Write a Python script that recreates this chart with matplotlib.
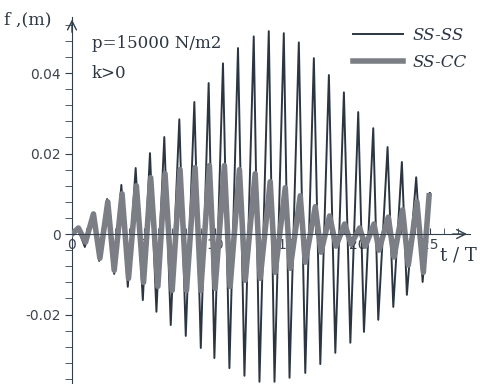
import matplotlib.pyplot as plt
from matplotlib.ticker import MultipleLocator, FixedLocator

# SS-SS : peaks and troughs
ss_peak_t = [0.4, 1.45, 2.45, 3.45, 4.45, 5.45, 6.45, 7.5, 8.55, 9.55, 10.55, 11.6, 12.7,
             13.75, 14.8, 15.85, 16.9, 17.95, 19.0, 20.0, 21.05, 22.05, 23.05, 24.05, 25.0]
ss_peak_f = [0.0015, 0.005, 0.0087, 0.0122, 0.0164, 0.0201, 0.0241, 0.0285, 0.0328, 0.0375,
             0.0424, 0.0462, 0.0491, 0.0504, 0.0499, 0.0476, 0.0437, 0.0395, 0.0352, 0.0303,
             0.0263, 0.0216, 0.0179, 0.0141, 0.0102]
ss_trough_t = [0.9, 1.9, 2.95, 3.9, 4.95, 5.9, 6.9, 7.95, 9.0, 9.95, 11.0, 12.05, 13.1,
               14.15, 15.2, 16.3, 17.35, 18.4, 19.45, 20.4, 21.4, 22.45, 23.4, 24.5]
ss_trough_f = [-0.0032, -0.0067, -0.0099, -0.0131, -0.0164, -0.0193, -0.0226, -0.0253,
               -0.0283, -0.0308, -0.0333, -0.0352, -0.0367, -0.0367, -0.0357, -0.0345,
               -0.0323, -0.0295, -0.027, -0.0243, -0.0213, -0.0181, -0.0151, -0.0119]

# SS-CC
cc_peak_t = [0.45, 1.5, 2.5, 3.5, 4.5, 5.5, 6.5, 7.55, 8.6, 9.6, 10.65, 11.7, 12.8, 13.85,
             14.9, 15.95, 17.0, 18.0, 19.05, 20.1, 21.1, 22.1, 23.1, 24.1, 24.95]
cc_peak_f = [0.0015, 0.005, 0.008, 0.010, 0.012, 0.014, 0.015, 0.016, 0.0165, 0.017, 0.017,
             0.016, 0.015, 0.013, 0.0115, 0.0095, 0.0068, 0.0045, 0.0025, 0.0015, 0.0025,
             0.0042, 0.006, 0.008, 0.0095]
cc_trough_t = [0.95, 1.95, 2.95, 3.95, 5.0, 6.0, 7.0, 8.0, 9.0, 10.0, 11.05, 12.1, 13.15,
               14.2, 15.25, 16.3, 17.4, 18.45, 19.5, 20.5, 21.45, 22.5, 23.5, 24.55]
cc_trough_f = [-0.002, -0.006, -0.009, -0.011, -0.012, -0.013, -0.014, -0.014, -0.014,
               -0.0135, -0.013, -0.0115, -0.011, -0.0095, -0.0085, -0.007, -0.0045, -0.003,
               -0.0025, -0.003, -0.004, -0.0057, -0.0077, -0.0095]

x_labels = [0, 5, 10, 15, 20, 25]
y_labels = [-0.02, 0, 0.02, 0.04]


def zigzag(pt, pf, tt, tf):
    pts = sorted([(0.0, 0.0)] + list(zip(pt, pf)) + list(zip(tt, tf)))
    return [p[0] for p in pts], [p[1] for p in pts]


dark = '#2c3642'
grey = '#7b7f85'
axc = '#33404c'

fig = plt.figure(figsize=(4.87, 3.84), dpi=100)
ax = fig.add_axes([0.1478, 0.0026, 0.817, 0.954])

t1, f1 = zigzag(ss_peak_t, ss_peak_f, ss_trough_t, ss_trough_f)
t2, f2 = zigzag(cc_peak_t, cc_peak_f, cc_trough_t, cc_trough_f)
ax.plot(t1, f1, color=dark, lw=1.4, label='SS-SS', zorder=3)
ax.plot(t2, f2, color=grey, lw=4.0, label='SS-CC', zorder=4)

ax.set_xlim(0, 27.8)
ax.set_ylim(-0.037, 0.054)

for s in ['top', 'right']:
    ax.spines[s].set_visible(False)
ax.spines['bottom'].set_position(('data', 0))
ax.spines['left'].set_position(('data', 0))
ax.spines['bottom'].set_color(axc)
ax.spines['left'].set_color(axc)
ax.spines['bottom'].set_zorder(5)

ax.xaxis.set_major_locator(FixedLocator(x_labels))
ax.xaxis.set_minor_locator(MultipleLocator(1))
ax.set_xticklabels([str(v) for v in x_labels])
ax.tick_params(axis='x', which='both', direction='in', length=4, color=axc,
               labelsize=10, labelcolor='#3c4450', pad=3)

ax.yaxis.set_major_locator(FixedLocator(y_labels))
ax.yaxis.set_minor_locator(MultipleLocator(0.004))
ax.set_yticklabels(['-0.02', '0', '0.02', '0.04'])
ax.tick_params(axis='y', which='both', direction='out', length=5, color=axc,
               labelsize=10, labelcolor='#3c4450', pad=3)

# axis arrows
ax.annotate('', xy=(1.0, 0), xycoords=('axes fraction', 'data'), xytext=(0.95, 0),
            arrowprops=dict(arrowstyle='->', color=axc, lw=1.0, mutation_scale=16))
ax.annotate('', xy=(0, 1.0), xycoords=('data', 'axes fraction'), xytext=(0, 0.95),
            arrowprops=dict(arrowstyle='->', color=axc, lw=1.0, mutation_scale=16))

serif = 'DejaVu Serif'
fig.text(4 / 487, 1 - 20 / 384, 'f ,(m)', family=serif, fontsize=12.5, color=dark, va='center')
fig.text(92 / 487, 1 - 44 / 384, 'p=15000 N/m2', family=serif, fontsize=12, color=dark, va='center')
fig.text(92 / 487, 1 - 74 / 384, 'k>0', family=serif, fontsize=12, color=dark, va='center')
fig.text(440 / 487, 1 - 256 / 384, 't / T', family=serif, fontsize=13, color=dark, va='center')

ax.legend(loc='upper left', bbox_to_anchor=(338 / 487, 1 - 12 / 384),
          bbox_transform=fig.transFigure, frameon=False, handlelength=3.0,
          handletextpad=0.6, labelspacing=0.6,
          prop=dict(family=serif, style='italic', size=12), labelcolor=dark)

fig.savefig('out.png', dpi=100)
